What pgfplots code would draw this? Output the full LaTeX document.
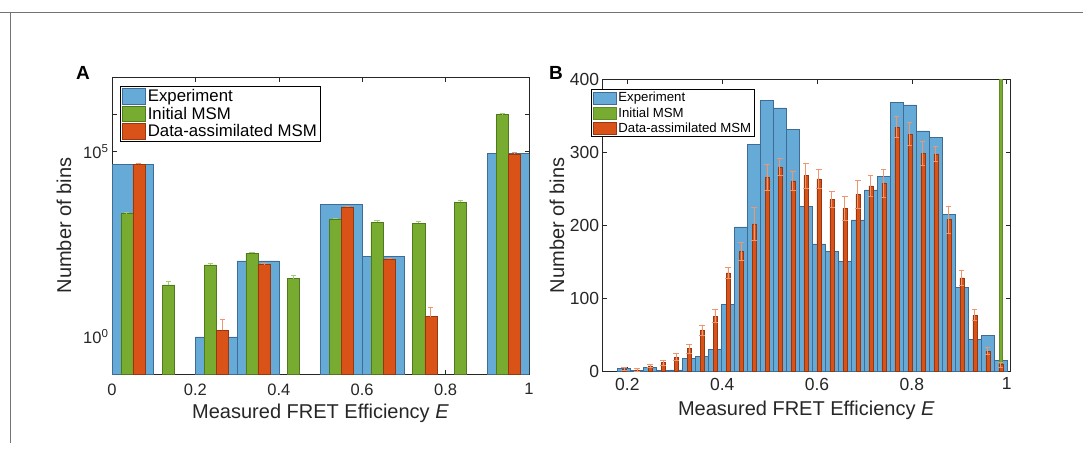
\documentclass[border=0pt]{standalone}
\usepackage{pgfplots}
\usepackage{pgfplotstable}
\pgfplotsset{compat=1.18}
\usepackage{fontspec}
\setmainfont{Liberation Sans}
\definecolor{axcol}{RGB}{38,38,38}
\definecolor{expb}{RGB}{102,170,215}
\definecolor{expe}{RGB}{62,108,148}
\definecolor{msmg}{RGB}{119,172,48}
\definecolor{msmge}{RGB}{80,120,30}
\definecolor{msmr}{RGB}{217,83,25}
\definecolor{msmre}{RGB}{150,55,15}
\definecolor{rerr}{RGB}{240,150,110}
\definecolor{gerr}{RGB}{165,205,115}

% Panel A
\pgfplotstableread{
x y
0.05 44500
0.25 1
0.35 112
0.55 3740
0.65 145
0.95 87000
}\expA
\pgfplotstableread{
x y e
0.0355 2100 120
0.1355 25 6
0.2355 87 10
0.3355 178 12
0.4355 37 7.5
0.5355 1510 80
0.6355 1210 130
0.7355 1160 110
0.8355 4170 640
0.9355 970000 100000
}\iniA
\pgfplotstableread{
x y e
0.0645 44500 2500
0.2645 1.5 1.5
0.3645 89 4
0.5645 3100 200
0.6645 123 10
0.7645 3.5 2.7
0.9645 85000 7000
}\datA

% Panel B
\pgfplotstableread{
x exp red rerr ini
0.1930 4 3 2 0
0.2204 1 2 1.5 0
0.2478 5 7.6 2.5 0
0.2752 1.5 12 3.5 0
0.3026 2 19.5 4.5 0
0.3300 18 31 6 0
0.3574 20 56 7 0
0.3848 29.6 75.6 9 0
0.4122 92 135 8 0
0.4396 198 164 12 0
0.4670 311 202 22 0
0.4944 371 265.5 17.5 0
0.5218 361 280 11 0
0.5492 331 261 13 0
0.5766 226 268 17 0
0.6040 174.5 263.7 13.3 0
0.6314 164 235.6 10.4 0
0.6588 150.6 223.7 16.3 0
0.6862 207.6 242.5 19.5 0
0.7136 248.5 254 15 0
0.7410 267 257.7 19.3 0
0.7684 368 334.5 14.2 0
0.7958 365 325 16 0
0.8232 329.4 298.6 16 0
0.8506 320.7 297.7 10.3 0
0.8780 214.5 208 18.5 0
0.9054 114.7 128 10.6 0
0.9328 43.4 77 7.8 0
0.9602 49 27.8 5 0
0.9876 15 9 3 5000
}\tabB

\pgfplotsset{
  common/.style={
    scale only axis,
    axis line style={color=axcol, line width=0.7pt},
    tick style={color=axcol, line width=0.6pt},
    major tick length=4.5pt,
    tick label style={color=axcol},
    label style={color=axcol, font=\fontsize{20}{22}\selectfont},
    legend cell align=left,
  },
  legA/.style={legend image code/.code={\draw[##1] (0pt,-7.8pt) rectangle (23pt,7.8pt);}},
  legB/.style={legend image code/.code={\draw[##1] (0pt,-6pt) rectangle (23pt,6pt);}},
  rerrs/.style={error bars/.cd, y dir=#1, y explicit,
    error bar style={color=rerr, line width=0.9pt},
    error mark options={rotate=90, mark size=2.6pt, color=rerr, line width=0.8pt}},
  gerrs/.style={error bars/.cd, y dir=#1, y explicit,
    error bar style={color=gerr, line width=0.9pt},
    error mark options={rotate=90, mark size=2.6pt, color=gerr, line width=0.8pt}},
}

\begin{document}
\begin{tikzpicture}
\path[use as bounding box] (0pt,0pt) rectangle (1083pt,-468pt);
\draw[black!55, line width=0.7pt] (0pt,-12pt) -- (1083pt,-12pt);
\draw[black!55, line width=0.7pt] (10pt,-12pt) -- (10pt,-443pt);

\node[font=\bfseries\fontsize{19}{19}\selectfont, text=black] at (83pt,-73.3pt) {A};
\node[font=\bfseries\fontsize{19}{19}\selectfont, text=black] at (556pt,-73.3pt) {B};

\begin{axis}[common,
  at={(112pt,-374pt)}, anchor=south west, width=417pt, height=297pt,
  xmin=0, xmax=1, ymode=log, ymin=0.1, ymax=1e7, log origin y=infty,
  xtick={0,0.2,0.4,0.6,0.8,1}, xticklabels={0,0.2,0.4,0.6,0.8,1},
  ytick={1,1e5}, yticklabels={10\textsuperscript{0},10\textsuperscript{5}},
  extra y ticks={0.1,10,100,1000,10000,1e6,1e7}, extra y tick labels={},
  yminorticks=false,
  tick label style={font=\fontsize{16.5}{18}\selectfont},
  xticklabel style={yshift=-6pt},
  xlabel={Measured FRET Efficiency \textit{E}},
  ylabel={Number of bins},
  xlabel style={at={(axis description cs:0.5,-0.149)}, anchor=base},
  ylabel style={at={(axis description cs:-0.115,0.5)}, anchor=center},
  legend style={at={(axis description cs:0.019,0.97)}, anchor=north west,
    font=\fontsize{16.8}{19}\selectfont, draw=black, line width=0.8pt,
    inner xsep=2pt, inner ysep=1pt, row sep=0pt},
]
\addplot[ybar, bar width=0.1, bar shift=0pt, fill=expb, draw=expe, line width=0.5pt, legA]
  table[x=x,y=y] {\expA};
\addlegendentry{Experiment}
\addplot[ybar, bar width=0.029, bar shift=0pt, fill=msmg, draw=msmge, line width=0.5pt, legA, gerrs=plus]
  table[x=x,y=y,y error=e] {\iniA};
\addlegendentry{Initial MSM}
\addplot[ybar, bar width=0.029, bar shift=0pt, fill=msmr, draw=msmre, line width=0.5pt, legA, rerrs=plus]
  table[x=x,y=y,y error=e] {\datA};
\addlegendentry{Data-assimilated MSM}
\end{axis}

\begin{axis}[common,
  at={(602.7pt,-371.3pt)}, anchor=south west, width=407.3pt, height=292pt,
  xmin=0.148, xmax=1.007, ymin=0, ymax=400,
  xtick={0.2,0.4,0.6,0.8,1}, xticklabels={0.2,0.4,0.6,0.8,1},
  ytick={0,100,200,300,400}, yticklabels={0,100,200,300,400},
  tick label style={font=\fontsize{17.5}{19}\selectfont},
  xticklabel style={yshift=-3pt},
  xlabel={Measured FRET Efficiency \textit{E}},
  ylabel={Number of bins},
  xlabel style={at={(axis description cs:0.5,-0.1497)}, anchor=base},
  ylabel style={at={(axis description cs:-0.112,0.5)}, anchor=center},
  legend style={at={(axis description cs:-0.0287,0.9668)}, anchor=north west,
    font=\fontsize{13.2}{15}\selectfont, draw=black, line width=0.8pt,
    inner xsep=1.5pt, inner ysep=1pt, row sep=0pt},
]
\addplot[ybar, bar width=0.0274, bar shift=0pt, fill=expb, draw=expe, line width=0.5pt, legB]
  table[x=x,y=exp] {\tabB};
\addlegendentry{Experiment}
\addplot[ybar, bar width=0.0076, bar shift=0pt, fill=msmg, draw=msmg!80!black, line width=0.4pt, legB]
  table[x=x,y=ini] {\tabB};
\addlegendentry{Initial MSM}
\addplot[ybar, bar width=0.0082, bar shift=0pt, fill=msmr, draw=msmre, line width=0.5pt, legB, rerrs=both]
  table[x=x,y=red,y error=rerr] {\tabB};
\addlegendentry{Data-assimilated MSM}
\end{axis}
\end{tikzpicture}
\end{document}
